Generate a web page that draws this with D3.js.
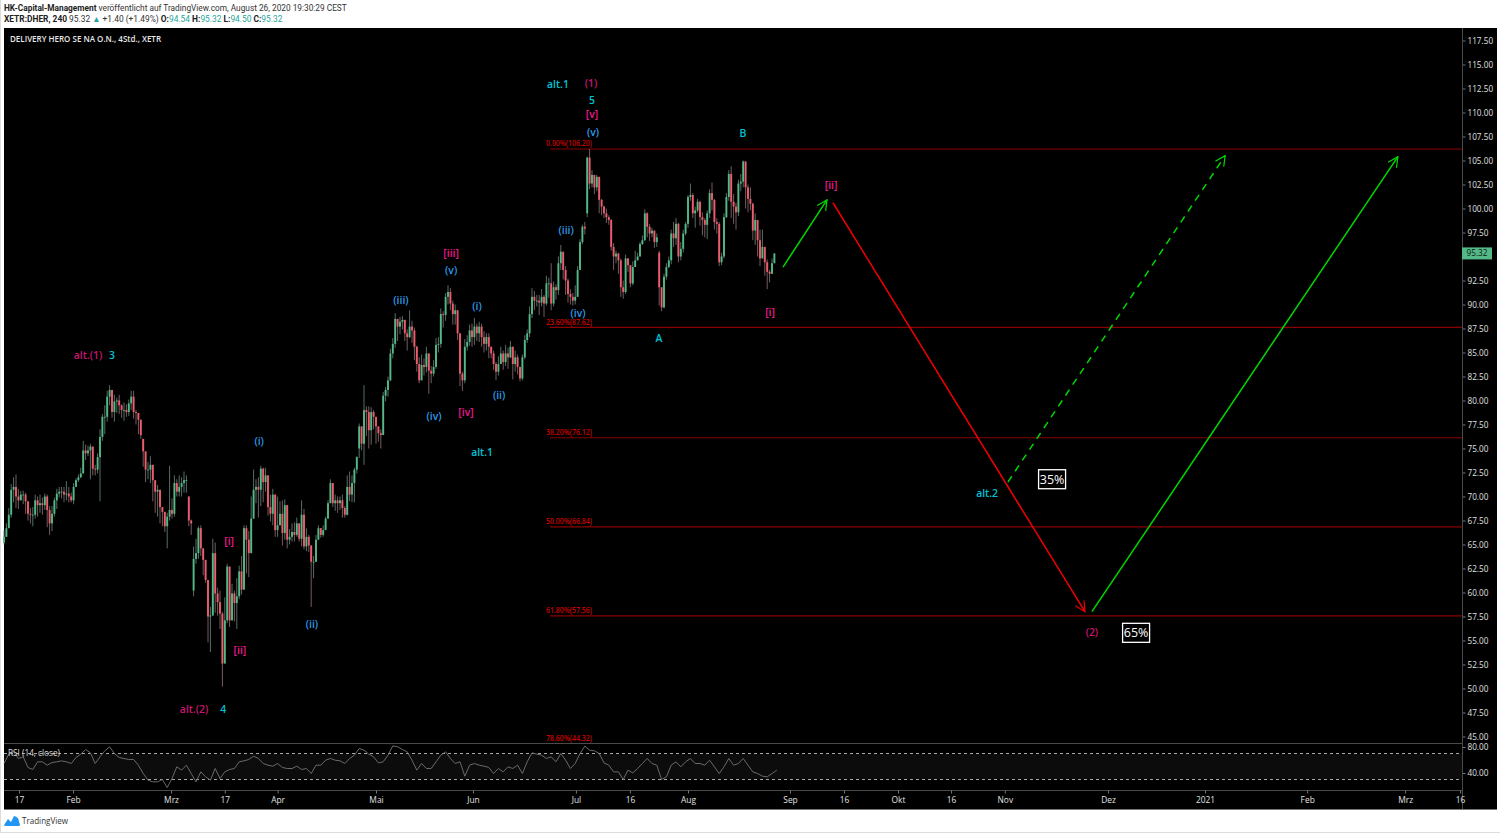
<!DOCTYPE html>
<html><head><meta charset="utf-8">
<script src="https://cdn.jsdelivr.net/npm/d3@7"></script>
<style>html,body{margin:0;padding:0;background:#fff;overflow:hidden}svg{display:block}text{font-family:"Open Sans",sans-serif}</style>
</head><body><svg id="c" width="1500" height="833"></svg>
<script>
const closes=[
65.8,66.7,68.1,70.7,71,70,69.6,70.2,70.2,69.5,
68.2,68.1,68.1,69.6,69.1,69.3,69.1,70,68.6,67.2,
68.2,69.6,70.3,70.5,70.5,70.2,70.3,70,69.6,71,
71.7,72,72.4,74.8,74.5,74.8,75.2,72.9,72.8,74.1,
76.2,78.3,78.3,80.4,81.1,78.8,79.9,80,79.5,79,
79,78.8,79.7,80.4,78.8,78.7,78,76.4,74.7,72.8,
72.8,73.3,71.7,70.5,70.7,68.9,68.4,66.9,67.9,68.6,
68.2,71.4,70.5,71,71.4,71.7,71.7,67.5,67.2,63.5,
64.1,66.7,64.6,63.4,61.3,57.5,57.6,64.1,59.9,59,
57.8,52.6,57.1,62.7,57.1,59.9,58.9,59.6,62.2,60.3,
66.7,65.5,64.1,67.7,70.7,71,70.7,72.9,71.5,72.2,
68.9,68.2,70.2,66.5,67,68.2,66.2,69.1,65.5,65.8,
66.3,66,67.2,65.6,68.1,64.8,65.8,64.9,63.2,63.2,
65.5,66.7,66,66.5,67.7,69.3,71.4,69.3,69.6,69.3,
69.6,68.8,68.1,71,70.2,71.4,72.8,74.1,77.3,75.5,
79,78.8,76.9,78.8,78.3,77.3,76.6,76.4,
80.5,81.1,82.1,84.9,85.9,88.5,87.7,88.2,88.4,87,
86.6,87.7,87.3,85.6,83.8,82.1,83.7,83.5,84.9,83.1,
82.8,83.5,85.8,85.9,89,88.9,90.8,91.3,90.1,89,
89.4,87,82.8,82.1,85.6,86.1,87.3,86.6,87.7,87,
87.7,86.6,85.9,86.6,85.6,84.9,83.8,83,83.8,84.9,
84,84.9,84.5,85.6,83.8,84.5,83.5,82.3,84.5,86.3,
87,89,90.8,90.4,90.4,90.2,90.8,90.1,92.2,92.2,
90.1,91.8,91.5,94.3,95.5,93.6,92.5,91.1,90.8,90.4,
90.8,93.6,96.5,98.1,97.9,105.3,102.6,103.5,102.2,103.3,
100.9,100.2,99.5,99.1,98.8,96,95,95.3,94.6,91.8,
91.3,94.8,94.1,92.2,93.9,94.6,95,96.3,96.7,99.5,
98.1,97.4,97.7,96.5,97,91.8,89.7,92.9,93.9,94.6,
97.4,96.9,98.4,95,95.8,97.4,98.4,101.2,101.4,99.5,
99.8,100.7,99.1,98.8,98.3,99.5,101.6,100.9,98.6,98.4,
94.4,95,99.1,101.2,103.6,100.7,100.2,99.6,102.6,102.8,
104.9,102.2,101,100.5,97.7,98.8,96.7,94.8,96,94.4,
93.4,93.2,94.3,95.32];
const highs=[
66.5,67.2,68.8,71.3,72,72.3,70.8,70.6,70.6,70.4,
69.5,68.8,68.9,70.2,70,70.2,69.9,70.3,70.2,69,
69,69.9,70.8,71,71,71,71.6,71,70.4,71.4,
71.9,72.3,73,75.8,75.4,75.3,75.5,75,73.3,74.5,
77,78.6,79.5,81,81.6,80.8,80.6,80.3,80.6,79.6,
79.8,79.6,80.1,81,81,79,78.4,77.8,76,74.2,
73.6,74.2,72.2,71.2,71.2,70.4,68.9,68.4,68.3,73.2,
69.8,72.2,71.8,72.2,72,72.6,72.2,69.8,67.6,64.8,
65.6,66.9,67,64.6,62,58.5,58.5,65.6,65.2,60.5,
60.2,58,59.5,63,59.5,60.9,60.2,61.5,62.8,63.8,
67,67,66.4,70,72.8,71.8,72,73.2,73,73,
71,70.2,70.8,69,70,69.5,69.6,69.7,66.5,66.6,
67.2,67.3,67.8,66.7,69.6,68.7,66.7,66,64,63.8,
66,67,66.6,67,67.9,69.6,71.8,71,70.2,70,
70,70.2,69,72.2,72.6,72.2,73,74.2,77.6,76.5,
81.6,79.4,79.4,79.3,79,78,77,77,
80.9,81.4,82.5,85.4,86.5,89.1,88.5,88.7,88.8,88,
87.4,89.4,88.3,87.6,85.7,84.5,84.8,84.4,85.6,84.8,
83.6,84.2,86.5,86.6,89.6,89.3,91.2,92,91.7,90.4,
90,89.3,84,83,86.4,86.8,87.9,88,88.6,88,
88.2,88,87.2,87,87,85.6,85.2,84,84.6,85.6,
85.2,85.8,85.5,86.2,85.2,85.2,84.8,83.4,84.8,86.8,
87.4,89.8,91.7,91.4,91,91,91.6,91,93,92.8,
94.3,92.4,92.1,95,96.2,95.5,94,92.7,91.6,91.2,
92,94,96.8,98.3,98.6,105.4,106.2,104,103.5,103.5,
102,101,100.3,100,99.3,98.9,96.4,95.6,95.4,94.8,
92.5,95.2,94.8,93.5,94.5,95.6,95.4,96.5,97.2,99.9,
99.6,98.4,98,97.2,97.4,95.6,91.8,93.2,94.3,95,
97.8,98.6,99,98.5,96.5,97.8,98.6,101.4,102.6,101.6,
100.2,101,100.8,99.6,99,99.8,102,102.7,101,99,
98.6,95.4,99.5,101.6,104,104.4,101.5,100.6,103,103.6,
105,104.8,102.5,102.2,100.6,99.5,97,97.8,97.8,96,
94.7,93.6,94.8,95.32];
const lows=[
65,65.8,66.8,67.8,69.4,68.8,68.7,69.6,69.2,68.2,
67.5,67.2,66.9,67.7,67.9,68.3,68.1,68.6,66.8,66,
66.4,67.9,68.7,69.9,69.8,69.4,69.6,69.4,69.4,69.2,
71,71.5,71.9,72.4,73.8,74.2,71.8,72.2,72.2,72.4,
69.5,75.8,76.5,77.8,79.5,78.2,77.8,78.7,78.6,78.2,
77.9,78.3,78.4,79,78.1,77.5,76.5,76,73.1,71.5,
71.8,71.4,69.5,68.3,67.9,67.2,66.9,66.3,64.6,67.5,
67.7,67.9,70,70,70,70.4,70.4,66.9,66,59.6,
63,63.5,63.8,61.8,61,54.8,53.8,58,57.9,57.6,
56.2,50.2,56,56.8,56.4,57.8,57,56.2,59.3,59.8,
63,62,61.6,64.9,68,69.3,67.8,69,69.4,70.5,
68,67.4,67,65.8,65.8,67,64.9,65.5,64.6,65,
65.3,65.3,65.8,65.3,64.8,64.5,64.3,64.2,58.5,61.5,
64.1,65.5,65.7,65.8,66.7,68.2,69.8,68.9,68.5,68.3,
68.6,67.8,67.8,68,69.5,69.4,69.4,72.4,74,74.8,
73.3,76.3,75,75.4,77,75.5,75.7,75,
79.3,79.9,80.4,82,84.4,85.5,86.2,86.9,87.4,86.2,
85.2,86.5,86,84.2,83,81.8,82.4,82.6,82.9,80.7,
81.8,82.5,83.3,85,85.5,87.6,88.3,90,89.4,87.9,
87.9,86.3,81.5,81,81.8,85.2,85.7,85.6,85.8,86.2,
86.1,85.6,85,85.2,84.4,84.4,83.2,82.1,82.6,83.8,
83.2,83.6,83.3,84.4,82.2,83,82.7,82,82.1,84.3,
86,86.6,88.6,89.4,89.8,88.9,89.8,88.7,89.9,90.7,
89.4,89.8,90.5,91,93.6,92.6,91,90.2,90,89.9,
90,90.8,93.6,96.3,97.3,99.1,102,102.2,101.5,101.8,
99.5,99.3,99,98.5,98.3,95.6,93.6,94.3,93.2,90.8,
90.6,91.1,93.4,91.8,92,94,94.6,95.6,96.2,96.6,
97,96.6,97,95.9,96,89.9,89.3,89.6,92.6,93.8,
94.2,96,96.2,94.4,94.6,95.4,97.2,98,100.8,99,
98,99.6,98.2,97.2,97,96.8,99,99.8,97.8,97.4,
94,94.1,94.8,99,100.8,99,98.4,97.8,99.2,101.8,
102.2,100,99.6,99.8,96.7,96.2,95,94,94.8,93,
91.6,92.3,93.2,94.4];
const gapBars=[58,77,79,148,243,273];
const gapOpens=[76,70,60.2,75,99.5,95.4];
const rsiValues=[
54.6,69,72.6,62.3,64.9,48.5,45.4,57.2,57.2,52,
56.1,57.2,58.7,57.2,54.6,63.8,69,76.2,71,54.6,
64.9,74.1,80.3,70,63.8,62.3,60.8,60.8,52,39.2,
29,26.4,26.4,30,17.7,31.5,49.5,44.4,52,39.2,
26.4,41.8,34.1,29,46.9,31.5,41.8,45.4,46.9,57.2,
58.7,60.8,65.9,62.3,54.6,52,50.5,54.6,48.5,46.9,
46.9,50.5,45.4,46.9,39.2,52,52,59.7,62.3,59.7,
58.7,54.6,62.3,67.4,77.7,75.1,69,64.9,55.6,57.2,
67.4,81.8,80.3,76.2,72.6,59.7,44.4,54.6,46.9,46.9,
57.2,67.4,72.6,62.3,54.6,57.2,35.1,52,54.6,52,
50.5,48.5,39.2,46.9,41.8,49.5,46.9,52,39.2,57.2,
71,69,67.4,62.3,64.9,57.2,70,59.7,46.9,54.6,
70,81.3,75.1,74.1,70,55.6,52,41.8,41.8,30,
44.4,40.2,46.9,54.6,62.3,54.6,52,30,34.1,52,
57.2,49.5,57.2,62.3,54.6,54.6,52,59.7,49.5,39.2,
49.5,62.3,52,54.6,62.3,52,41.8,39.2,35.1,34.1,
39.2,44.4];
const priceTicks=[45,47.5,50,52.5,55,57.5,60,62.5,65,67.5,70,72.5,75,77.5,80,82.5,85,87.5,90,92.5,97.5,100,102.5,105,107.5,110,112.5,115,117.5];
const rsiTicks=[80,40];
const fibLevels=[106.20,87.62,76.12,66.84,57.56];
const fibLabels=["0.00%(106.20)","23.60%(87.62)","38.20%(76.12)","50.00%(66.84)","61.80%(57.56)"];
const timeBars=[6.25,28.75,69.6,92,114,155,195.4,238.3,260.8,285,327.5,350,372.5,394.6,417,460,500.4,543,583.8,606.7];
const timeLabels=["17","Feb","Mrz","17","Apr","Mai","Jun","Jul","16","Aug","Sep","16","Okt","16","Nov","Dez","2021","Feb","Mrz","16"];
const noteText=["alt.1","(1)","5","[v]","(v)","B","[ii]","(iii)","[iii]","(v)","(iii)","(i)","(iv)","[i]","A","alt.(1)","3","(ii)","[iv]","(iv)","(i)","alt.1","alt.2","[i]","(ii)","(2)","[ii]","alt.(2)","4"];
const noteBar=[230.8,244.6,245,245,245.4,307.9,344.6,234.2,186.3,186.3,165.4,197.1,239.2,319.2,272.9,35,45,206.3,192.5,179.2,106.3,199.2,409.6,93.8,128.3,453.3,98.3,79.2,91.3];
const notePrice=[113,113.1,111.3,109.9,108,107.9,102.5,97.8,95.4,93.6,90.5,89.9,89.1,89.2,86.5,84.8,84.8,80.6,78.8,78.4,75.8,74.7,70.4,65.4,56.7,55.9,54,47.9,47.9];
const noteKind=["t","d","t","p","b","t","p","b","p","b","b","b","b","p","t","d","t","b","p","b","b","t","t","p","b","d","p","d","t"];
const arrowFrom=[[324.6,93.9],[345.4,100.6],[453.3,58],[418.3,71.5]];
const arrowTo=[[342.9,100.9],[450.4,58],[580.8,105.4],[508.8,105.5]];
const arrowKind=["up","down","up","dash"];
const boxText=["35%","65%"];const boxBar=[436.7,471.7];const boxPrice=[71.8,55.8];

const svg=d3.select("#c");
const L=4,R=1462,E=1497,T=28,PB=743,RB=790,B=809;
const x=d3.scaleLinear().domain([0,607.5]).range([L,R]);
const y=d3.scaleLinear().domain([117.5,50]).range([40.5,688.5]);
const yr=d3.scaleLinear().domain([80,30]).range([747,779.5]);
const noteCol={t:"#00c4d6",d:"#c8156f",p:"#f0188f",b:"#2e9be8"};

svg.append("rect").attr("x",L).attr("y",T).attr("width",E-L).attr("height",B-T).attr("fill","#000");
svg.append("line").attr("x1",0.5).attr("x2",0.5).attr("y1",0).attr("y2",833).attr("stroke","#ddd");
svg.append("line").attr("x1",0).attr("x2",1500).attr("y1",832.5).attr("y2",832.5).attr("stroke","#ddd");

// fib lines
const fg=svg.append("g");
const fibText=(v,t)=>fg.append("text").attr("x",546).attr("y",v).attr("fill","#c80000").attr("font-size",8.6).attr("font-weight",600).attr("textLength",46).attr("lengthAdjust","spacingAndGlyphs").text(t);
fibLevels.forEach((v,k)=>{
 fg.append("line").attr("x1",550).attr("x2",R).attr("y1",y(v)).attr("y2",y(v)).attr("stroke","#8a0000").attr("stroke-width",1.2);
 fibText(y(v)-2.5,fibLabels[k]);
});
fibText(740.5,"78.60%(44.32)");

// candles
const opens=closes.map((c,i)=>{const g=gapBars.indexOf(i);return g>=0?gapOpens[g]:(i?closes[i-1]:65.2);});
const cg=svg.append("g");
closes.forEach((c,i)=>{
 const o=opens[i],up=c>=o,hi=Math.max(highs[i],o,c),lo=Math.min(lows[i],o,c);
 cg.append("line").attr("x1",x(i)).attr("x2",x(i)).attr("y1",y(hi)).attr("y2",y(lo)).attr("stroke",up?"#5f7a70":"#85656a").attr("stroke-width",0.9);
 cg.append("rect").attr("x",x(i)-0.95).attr("width",1.9).attr("y",y(Math.max(o,c))).attr("height",Math.max(0.8,Math.abs(y(o)-y(c)))).attr("fill",up?"#53b987":"#ef5d6c");
});

// arrows
const defs=svg.append("defs");
[["headG","#00d800"],["headR","#f00000"]].forEach(([id,col])=>{
 defs.append("marker").attr("id",id).attr("viewBox","0 0 12 12").attr("refX",11).attr("refY",6).attr("markerWidth",12).attr("markerHeight",12).attr("markerUnits","userSpaceOnUse").attr("orient","auto")
  .append("path").attr("d","M1,1 L11,6 L1,11").attr("fill","none").attr("stroke",col).attr("stroke-width",1.2);
});
arrowFrom.forEach((a,k)=>{
 const kind=arrowKind[k],col=kind==="down"?"#f00000":"#00d800";
 svg.append("line").attr("x1",x(a[0])).attr("y1",y(a[1])).attr("x2",x(arrowTo[k][0])).attr("y2",y(arrowTo[k][1]))
  .attr("stroke",col).attr("stroke-width",1.5).attr("stroke-dasharray",kind==="dash"?"7,6":null)
  .attr("marker-end",`url(#${kind==="down"?"headR":"headG"})`);
});

// notes
noteText.forEach((t,k)=>{
 svg.append("text").attr("x",x(noteBar[k])).attr("y",y(notePrice[k])).attr("dy","0.4em").attr("text-anchor","middle")
  .attr("fill",noteCol[noteKind[k]]).attr("font-size",10.4).attr("font-weight",600).text(t);
});
boxText.forEach((t,k)=>{
 const cx=x(boxBar[k]),cy=y(boxPrice[k]);
 svg.append("rect").attr("x",cx-13.5).attr("y",cy-9.5).attr("width",27).attr("height",19).attr("fill","#000").attr("stroke","#fff").attr("stroke-width",1.3);
 svg.append("text").attr("x",cx).attr("y",cy).attr("dy","0.36em").attr("text-anchor","middle").attr("fill","#fff").attr("font-size",12.5).attr("font-weight",400).text(t);
});

// RSI pane
svg.append("rect").attr("x",L).attr("width",R-L).attr("y",yr(70)).attr("height",yr(30)-yr(70)).attr("fill","#0c0c0c");
[70,30].forEach(v=>svg.append("line").attr("x1",L).attr("x2",R).attr("y1",yr(v)).attr("y2",yr(v)).attr("stroke","#bbb").attr("stroke-width",0.9).attr("stroke-dasharray","3,3"));
svg.append("path").datum(rsiValues).attr("fill","none").attr("stroke","#6a6a6a").attr("stroke-width",1)
 .attr("d",d3.line().x((d,k)=>x(k*2)).y(d=>yr(d)));
svg.append("text").attr("x",8).attr("y",756).attr("fill","#ddd").attr("font-size",8.4).attr("textLength",52).attr("lengthAdjust","spacingAndGlyphs").text("RSI (14, close)");
[PB,RB,B].forEach(v=>svg.append("line").attr("x1",L).attr("x2",v===B?E:R).attr("y1",v+.5).attr("y2",v+.5).attr("stroke",v===B?"#777":"#4a4a4a"));

// right axis
const ax=svg.append("g").attr("transform",`translate(${R+.5},0)`).call(d3.axisRight(y).tickValues(priceTicks).tickFormat(d3.format(".2f")).tickSize(3).tickPadding(2));
const ax2=svg.append("g").attr("transform",`translate(${R+.5},0)`).call(d3.axisRight(yr).tickValues(rsiTicks).tickFormat(d3.format(".2f")).tickSize(3).tickPadding(2));
[ax,ax2].forEach(g=>{g.select(".domain").remove();g.selectAll("line").attr("stroke","#777");g.selectAll("text").attr("fill","#e0e0e0").attr("font-size",8.2).style("font-family",'"Open Sans",sans-serif');});
svg.append("line").attr("x1",R+.5).attr("x2",R+.5).attr("y1",T).attr("y2",B).attr("stroke","#4a4a4a");

// time axis
const tx=svg.append("g").attr("transform",`translate(0,${RB+.5})`).call(d3.axisBottom(x).tickValues(timeBars).tickFormat((d,k)=>timeLabels[k]).tickSize(3).tickPadding(4));
tx.select(".domain").remove();tx.selectAll("line").attr("stroke","#777");
tx.selectAll("text").attr("fill","#e0e0e0").attr("font-size",8.4).style("font-family",'"Open Sans",sans-serif');

// last price
const lastY=y(closes[closes.length-1]);
svg.append("rect").attr("x",R).attr("y",lastY-6).attr("width",30).attr("height",12).attr("fill","#53b987");
svg.append("text").attr("x",R+15).attr("y",lastY).attr("dy","0.35em").attr("text-anchor","middle").attr("fill","#0b1a12").attr("font-size",8.2).text("95.32");

// header
svg.append("text").attr("x",4).attr("y",11).attr("font-size",8.3).attr("fill","#333").style("font-family","Roboto,sans-serif").html('<tspan font-weight="700" fill="#222">HK-Capital-Management</tspan> veröffentlicht auf TradingView.com, August 26, 2020 19:30:29 CEST');
svg.append("text").attr("x",4).attr("y",22).attr("font-size",8.4).attr("fill","#333").style("font-family","Roboto,sans-serif").html('<tspan font-weight="700" fill="#222">XETR:DHER, 240</tspan> 95.32 <tspan fill="#26a69a">▲</tspan> +1.40 (+1.49%) <tspan font-weight="700" fill="#222">O:</tspan><tspan fill="#26a69a">94.54</tspan> <tspan font-weight="700" fill="#222">H:</tspan><tspan fill="#26a69a">95.32</tspan> <tspan font-weight="700" fill="#222">L:</tspan><tspan fill="#26a69a">94.50</tspan> <tspan font-weight="700" fill="#222">C:</tspan><tspan fill="#26a69a">95.32</tspan>');
svg.append("text").attr("x",10).attr("y",42).attr("font-size",8.6).attr("font-weight",600).attr("fill","#e8e8e8").attr("textLength",151).attr("lengthAdjust","spacingAndGlyphs").text("DELIVERY HERO SE NA O.N., 4Std., XETR");

// footer
svg.append("path").attr("d","M4,825 L8,819 L11,822 L14,816 Q19,817 19,822 Q21,825 19,826 L5,826 Z").attr("fill","#2196f3");
svg.append("text").attr("x",22).attr("y",824).attr("font-size",8.6).attr("fill","#333").attr("textLength",46).attr("lengthAdjust","spacingAndGlyphs").text("TradingView");
</script></body></html>
